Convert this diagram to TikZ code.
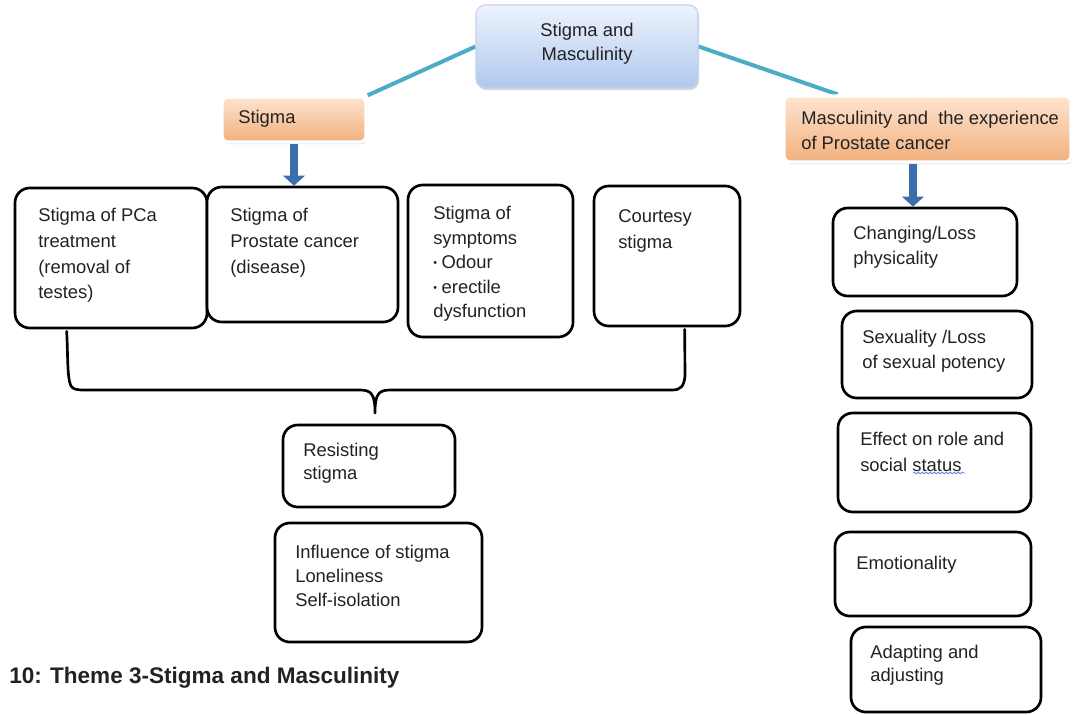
\documentclass[tikz,border=0pt]{standalone}
\usepackage{fontspec}
\setmainfont{Liberation Sans}
\usetikzlibrary{shadows,arrows.meta,decorations.pathmorphing,calc,fit}
\definecolor{tealline}{HTML}{4BACC6}
\definecolor{arrowblue}{HTML}{3C6DAC}
\definecolor{ink}{HTML}{222222}
\definecolor{peachtop}{HTML}{FDE4D0}
\definecolor{peachbot}{HTML}{F2B07C}
\definecolor{bluetop}{HTML}{EEF3FD}
\definecolor{bluebot}{HTML}{B0C8EE}
\definecolor{blueedge}{HTML}{C3D2EA}
\definecolor{spellblue}{HTML}{5B8DE0}
\pgfdeclarelayer{bg}
\pgfsetlayers{bg,main}
\newcommand{\bul}{{\fontsize{8}{8}\selectfont\raisebox{1.5pt}{•}}\hspace{3.5pt}}
\begin{document}
\begin{tikzpicture}[x=0.75pt,y=-0.75pt,
  frame/.style={draw=black,line width=2pt,rounded corners=11pt,fill=white,inner sep=0pt},
  peach/.style={top color=peachtop,bottom color=peachbot,draw=white,line width=2.5pt,
    rounded corners=4pt,inner sep=0pt,
    drop shadow={opacity=0.3,shadow xshift=0.8pt,shadow yshift=-1.6pt}},
  headbox/.style={top color=bluetop,bottom color=bluebot,draw=blueedge,line width=0.8pt,
    rounded corners=7pt,inner sep=0pt,
    drop shadow={opacity=0.3,shadow xshift=0.8pt,shadow yshift=-1.6pt}},
  txt/.style={anchor=north west,inner sep=0pt,align=left,text=ink},
  tealconn/.style={draw=tealline,line width=3pt},
  bluearrow/.style={draw=arrowblue,line width=5.5pt,
    -{Triangle[width=16pt,length=7.5pt]}},
  brace/.style={draw=black,line width=2pt,line join=round,line cap=round},
  spell/.style={draw=spellblue,line width=0.7pt,decorate,
    decoration={snake,amplitude=0.6pt,segment length=3pt}}]

\clip (0,0) rectangle (1074,714);

% theme heading and the two sub-themes
\node[headbox,fit={(476,5) (698,88)}] (top) {};
\node[txt,anchor=north,align=center,font=\fontsize{13.8}{18}\selectfont] (t-top) at (587,23) {Stigma and\\Masculinity};

\node[peach,fit={(222,97) (366,142)}] (stig) {};
\node[txt,font=\fontsize{13.8}{18}\selectfont] (t-stig) at (238,110) {Stigma};

\node[peach,fit={(784,96) (1071,162)}] (masc) {};
\node[txt,font=\fontsize{13.8}{18.75}\selectfont] (t-masc) at (801,111) {Masculinity and\ \ the experience\\of Prostate cancer};

% stigma boxes
\node[frame,fit={(15,188) (207,328)}] (b1) {};
\node[txt,font=\fontsize{13.8}{19.3}\selectfont] (t-b1) at (38,208) {Stigma of PCa\\treatment\\(removal of\\testes)};

\node[frame,fit={(207,187) (398,322)}] (b2) {};
\node[txt,font=\fontsize{13.8}{19.5}\selectfont] (t-b2) at (230,208) {Stigma of\\Prostate cancer\\(disease)};

\node[frame,fit={(408,185) (573,337)}] (b3) {};
\node[txt,font=\fontsize{13.8}{18.4}\selectfont] (t-b3) at (433,206) {Stigma of\\symptoms\\\bul Odour\\\bul erectile\\dysfunction};

\node[frame,fit={(594,186) (740,326)}] (b4) {};
\node[txt,font=\fontsize{13.8}{19.5}\selectfont] (t-b4) at (618,209) {Courtesy\\stigma};

\node[frame,fit={(283,425) (455,507)}] (resist) {};
\node[txt,font=\fontsize{13.8}{17.3}\selectfont] (t-resist) at (303,443) {Resisting\\stigma};

\node[frame,fit={(275,523) (482,642)}] (infl) {};
\node[txt,font=\fontsize{13.8}{18}\selectfont] (t-infl) at (295,545) {Influence of stigma\\Loneliness\\Self-isolation};

% masculinity boxes
\node[frame,fit={(833,208) (1017,296)}] (chg) {};
\node[txt,font=\fontsize{13.8}{18.75}\selectfont] (t-chg) at (853,226) {Changing/Loss\\physicality};

\node[frame,fit={(842,311) (1032,398)}] (sex) {};
\node[txt,font=\fontsize{13.8}{18.75}\selectfont] (t-sex) at (862,330) {Sexuality /Loss\\of sexual potency};

\node[frame,fit={(838,413) (1031,512)}] (eff) {};
\node[txt,font=\fontsize{13.8}{19.5}\selectfont] (t-eff) at (860,432) {Effect on role and\\social status};
\draw[spell] (913,473) -- (965,473);

\node[frame,fit={(835,532) (1031,616)}] (emo) {};
\node[txt,font=\fontsize{13.8}{18}\selectfont] (t-emo) at (856,556) {Emotionality};

\node[frame,fit={(851,627) (1041,712)}] (adapt) {};
\node[txt,font=\fontsize{13.8}{17.3}\selectfont] (t-adapt) at (870,645) {Adapting and\\adjusting};

% connectors, kept behind the boxes
\begin{pgfonlayer}{bg}
  \fill[white] (0,0) rectangle (1074,714);
  \draw[tealconn] (top.west) -- (stig.north east);
  \draw[tealconn] (top.east) -- ($(masc.north west)!0.19!(masc.north east)$);
\end{pgfonlayer}
\draw[bluearrow] (stig.south) -- (stig.south |- b2.north);
\coordinate (mA) at ($(masc.south west)!0.45!(masc.south east)$);
\draw[bluearrow] (mA) -- (mA |- chg.north);

% brace joining the four kinds of stigma
\coordinate (bl) at ($(b1.south west)+(53,2)$);
\coordinate (br) at ($(b4.south west)+(92,2)$);
\coordinate (braceTip) at (375,413);
\draw[brace] (bl) .. controls (68,355) and (67,378) .. (71,386)
  .. controls (73,389) and (76,390) .. (84,390) -- (360,390)
  .. controls (372,390) and (375,395) .. (braceTip)
  .. controls (375,395) and (378,390) .. (390,390) -- (672,390)
  .. controls (681,390) and (684,386) .. (685,376) -- (br);

% figure caption
\node[anchor=base west,inner sep=0pt,font=\bfseries\fontsize{16.9}{20}\selectfont,text=ink] (caption) at (9,683) {10: Theme 3-Stigma and Masculinity};
\end{tikzpicture}
\end{document}
